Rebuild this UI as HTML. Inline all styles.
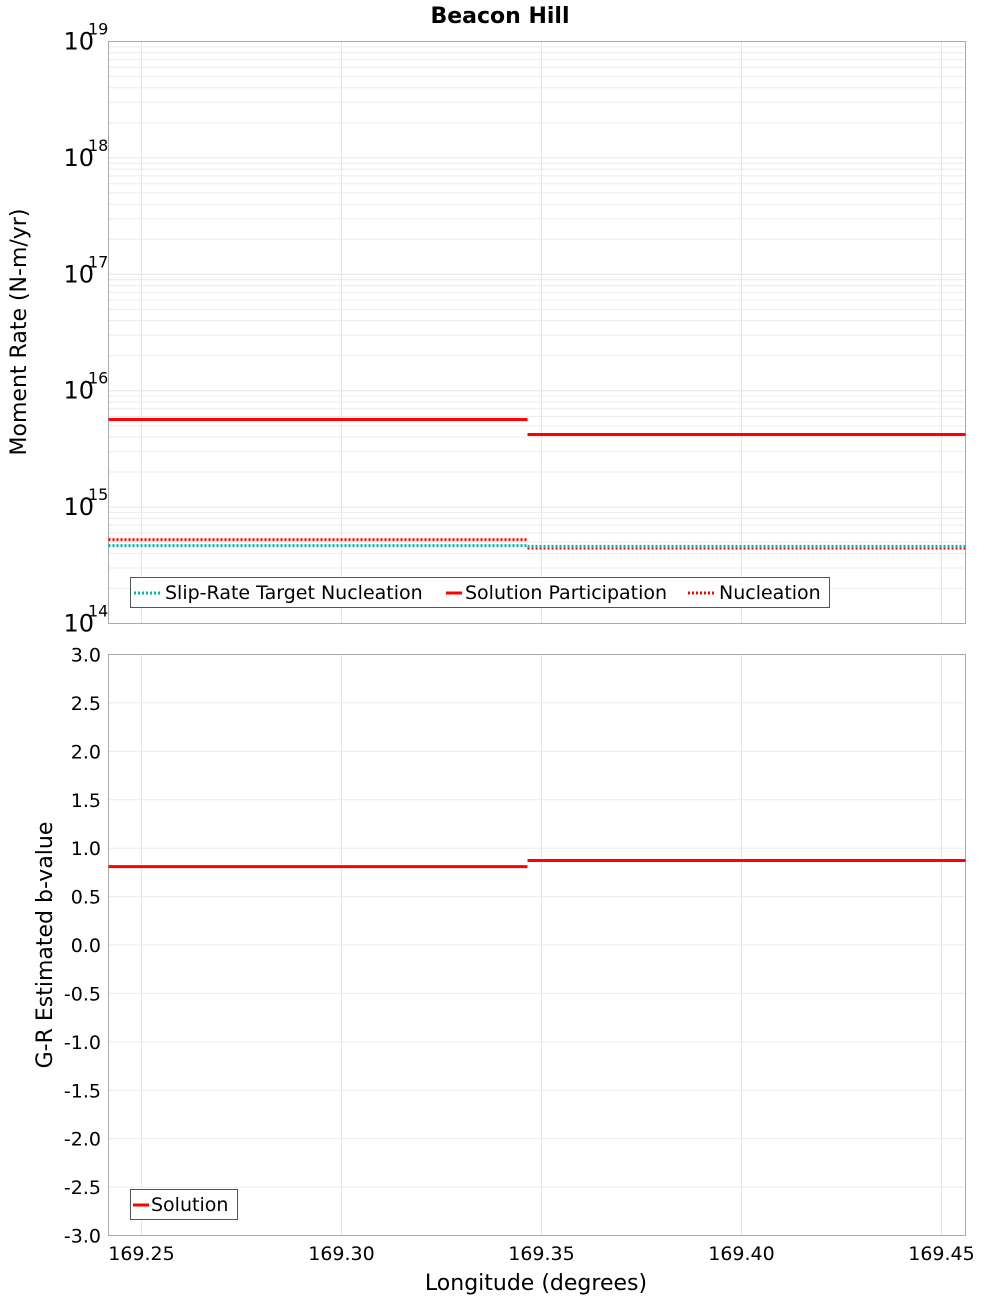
<!DOCTYPE html>
<html><head><meta charset="utf-8"><style>
body{margin:0;background:#fff}
svg text{font-family:"DejaVu Sans","Liberation Sans",sans-serif}
</style></head><body>
<svg id="c" width="1000" height="1300" xmlns="http://www.w3.org/2000/svg">
<text x="500" y="23" text-anchor="middle" font-size="22" font-weight="bold">Beacon Hill</text>
<g id="top"></g>
<g id="bot"></g>
<text transform="translate(26,332) rotate(-90)" text-anchor="middle" font-size="22">Moment Rate (N-m/yr)</text>
<text transform="translate(52,945) rotate(-90)" text-anchor="middle" font-size="22">G-R Estimated b-value</text>
<text x="536" y="1290" text-anchor="middle" font-size="22">Longitude (degrees)</text>
<g>
<rect x="130.5" y="577.5" width="699" height="30" fill="#fff" stroke="#555"/>
<line x1="134" y1="593" x2="161" y2="593" stroke="#00b4b4" stroke-width="3" stroke-dasharray="2,2"/>
<text x="165" y="599" font-size="19">Slip-Rate Target Nucleation</text>
<line x1="446" y1="593" x2="462" y2="593" stroke="#f00" stroke-width="3"/>
<text x="465" y="599" font-size="19">Solution Participation</text>
<line x1="688" y1="593" x2="716" y2="593" stroke="#f00" stroke-width="3" stroke-dasharray="2,2"/>
<text x="719" y="599" font-size="19">Nucleation</text>
</g>
<g>
<rect x="130.5" y="1189.5" width="107" height="30" fill="#fff" stroke="#555"/>
<line x1="133" y1="1205" x2="149" y2="1205" stroke="#f00" stroke-width="3"/>
<text x="151" y="1211" font-size="19">Solution</text>
</g>
</svg>
<script>
const xTicks=[169.25,169.30,169.35,169.40,169.45];
const xTickLabels=["169.25","169.30","169.35","169.40","169.45"];
const segStarts=[169.24175,169.3465];
const segEnds=[169.3465,169.456];
const targetNucleation=[4.67e14,4.6e14];
const solutionParticipation=[5.66e15,4.2e15];
const nucleation=[5.26e14,4.45e14];
const bValues=[0.81,0.873];
const logTicks=[14,15,16,17,18,19];
const bTicks=[3.0,2.5,2.0,1.5,1.0,0.5,0.0,-0.5,-1.0,-1.5,-2.0,-2.5,-3.0];

const NS="http://www.w3.org/2000/svg";
const L=108.5,R=965.5,T1=41.5,B1=623.5,T2=654.5,B2=1235.5;
const xMin=169.24175,xMax=169.456;
const X=v=>L+(v-xMin)/(xMax-xMin)*(R-L);
const Ylog=v=>B1-(Math.log10(v)-14)/5*(B1-T1);
const Yb=v=>B2-(v+3)/6*(B2-T2);
function mk(p,tag,a){const e=document.createElementNS(NS,tag);for(const k in a)e.setAttribute(k,a[k]);p.appendChild(e);return e;}
const gTop=document.getElementById('top'),gBot=document.getElementById('bot');

for(let d=14;d<19;d++)for(let m=2;m<=9;m++){const y=Ylog(m*Math.pow(10,d));
const g=mk(gTop,'line',{x1:L,x2:R,y1:y,y2:y,stroke:'#ebebeb','stroke-width':1});

}
logTicks.forEach(d=>{const y=Ylog(Math.pow(10,d));
const g=mk(gTop,'line',{x1:L,x2:R,y1:y,y2:y,stroke:'#e6e6e6'});


const t=mk(gTop,'text',{x:94,y:y+8,'text-anchor':'end','font-size':24});t.textContent='10';


const s=mk(gTop,'text',{x:88,y:y-7,'font-size':16});s.textContent=String(d);

});
xTicks.forEach((v,i)=>{const x=X(v);
const g=mk(gTop,'line',{x1:x,x2:x,y1:T1,y2:B1,stroke:'#e6e6e6'});


const g2=mk(gBot,'line',{x1:x,x2:x,y1:T2,y2:B2,stroke:'#e6e6e6'});


const t=mk(gBot,'text',{x:x,y:1260,'text-anchor':'middle','font-size':19});t.textContent=xTickLabels[i];

});
bTicks.forEach(v=>{const y=Yb(v);
const g=mk(gBot,'line',{x1:L,x2:R,y1:y,y2:y,stroke:'#ebebeb'});


const t=mk(gBot,'text',{x:101,y:y+7,'text-anchor':'end','font-size':19});t.textContent=v.toFixed(1);

});
const f1=mk(gTop,'rect',{x:L,y:T1,width:R-L,height:B1-T1,fill:'none',stroke:'#aaa'});


const f2=mk(gBot,'rect',{x:L,y:T2,width:R-L,height:B2-T2,fill:'none',stroke:'#aaa'});



function series(p,vals,Y,color,dash,name){vals.forEach((v,i)=>{
const a={x1:X(segStarts[i]),x2:X(segEnds[i]),y1:Y(v),y2:Y(v),stroke:color,'stroke-width':3};
if(dash)a['stroke-dasharray']='2,2';
const e=mk(p,'line',a);

});}
series(gTop,solutionParticipation,Ylog,'#f00',false,'participation-segment');
series(gTop,nucleation,Ylog,'#f00',true,'nucleation-segment');
series(gTop,targetNucleation,Ylog,'#00b4b4',true,'target-nucleation-segment');
series(gBot,bValues,Yb,'#f00',false,'b-value-segment');
</script>
</body></html>
